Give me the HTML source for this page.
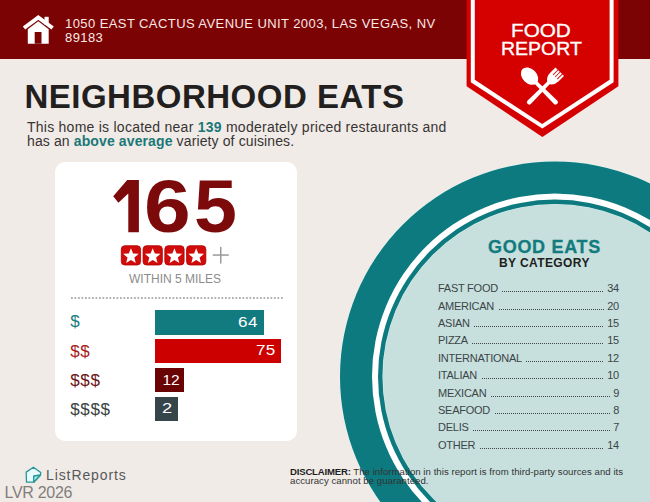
<!DOCTYPE html>
<html><head><meta charset="utf-8">
<style>
html,body{margin:0;padding:0;}
body{width:650px;height:502px;position:relative;overflow:hidden;background:#f0ebe7;font-family:"Liberation Sans",sans-serif;}
.a{position:absolute;white-space:nowrap;line-height:1;}
.row{position:absolute;left:438px;width:181px;height:14px;display:flex;align-items:baseline;font-size:11px;letter-spacing:-0.25px;line-height:14px;color:#3c4546;}
.row i{flex:1;margin:0 3px 0 4.5px;height:1px;background-image:linear-gradient(to right,#3f4748 50%,transparent 50%);background-size:2px 1px;background-repeat:repeat-x;}
</style></head><body>
<div class="a" style="left:0;top:0;width:650px;height:58.6px;background:#7b0304;"></div>

<svg class="a" style="left:0;top:0" width="650" height="502">
  <circle cx="555" cy="376.5" r="215.6" fill="#e2f3f2"/>
  <circle cx="555" cy="376.5" r="215" fill="#0c7a7e"/>
  <circle cx="555" cy="376.5" r="183" fill="#ffffff"/>
  <circle cx="555" cy="376.5" r="177" fill="#0c7a7e"/>
  <circle cx="555" cy="376.5" r="172.6" fill="#d5eeed"/>
  <circle cx="555" cy="376.5" r="172" fill="#c7e0de"/>
</svg>

<svg class="a" style="left:0;top:0" width="650" height="160">
  <polygon points="466.6,0 618.4,0 618.4,86.2 542.4,137 466.6,86.2" fill="#d50000"/>
  <polygon points="470.8,0 613.6,0 613.6,82.3 542.3,128.6 470.8,82.3" fill="#ffffff"/>
  <polygon points="474.8,0 609.6,0 609.6,79.8 542.2,124 474.8,79.8" fill="#d50000"/>
  <g fill="#fff">
    <g transform="translate(542.4,89) rotate(-45)">
      <ellipse cx="0" cy="-18.2" rx="7.2" ry="10"/>
      <path d="M-1.8,-10 L1.8,-10 L2.4,18.5 Q2.4,21 0,21 Q-2.4,21 -2.4,18.5 Z"/>
    </g>
    <g transform="translate(542.4,89) rotate(45)">
      <path d="M-6,-24.5 L-6,-17 Q-6,-11.5 -1.8,-8.5 L-2.4,18.5 Q-2.4,21 0,21 Q2.4,21 2.4,18.5 L1.8,-8.5 Q6,-11.5 6,-17 L6,-24.5 L3.9,-24.5 L3.9,-17.5 L3.1,-17.5 L3.1,-24.5 L0.9,-24.5 L0.9,-17.5 L0.1,-17.5 L0.1,-24.5 L-2.1,-24.5 L-2.1,-17.5 L-2.9,-17.5 L-2.9,-24.5 Z"/>
    </g>
  </g>
</svg>

<svg class="a" style="left:0;top:0" width="60" height="50">
  <polygon points="27.8,43.7 48.7,43.7 48.7,29.3 38.3,21.3 27.8,29.3" fill="#fff"/>
  <rect x="34.7" y="32" width="6.8" height="11.7" fill="#7b0304"/>
  <rect x="44.5" y="16.8" width="4.2" height="8" fill="#fff"/>
  <polyline points="24,28 38.3,17.4 52.6,28" fill="none" stroke="#fff" stroke-width="4" stroke-linejoin="miter"/>
</svg>

<div class="a" style="left:65px;top:17px;font-size:13px;letter-spacing:0.42px;color:#f8e8e6;line-height:14px;">1050 EAST CACTUS AVENUE UNIT 2003, LAS VEGAS, NV<br>89183</div>

<div class="a" style="left:510.5px;top:21px;font-size:19px;color:#fff;-webkit-text-stroke:0.35px #fff;transform:scaleX(1.09);transform-origin:0 0;">FOOD</div>
<div class="a" style="left:500.8px;top:38.5px;font-size:19px;color:#fff;-webkit-text-stroke:0.35px #fff;transform:scaleX(1.025);transform-origin:0 0;">REPORT</div>

<div class="a" style="left:24.4px;top:80.3px;font-size:33px;font-weight:700;letter-spacing:0.5px;color:#231f1f;">NEIGHBORHOOD EATS</div>
<div class="a" style="left:27px;top:119.5px;font-size:14px;color:#383434;letter-spacing:0.25px;">This home is located near <b style="color:#1b7878">139</b> moderately priced restaurants and</div>
<div class="a" style="left:27px;top:134.3px;font-size:14px;color:#383434;letter-spacing:0.12px;">has an <b style="color:#1b7878">above average</b> variety of cuisines.</div>

<div class="a" style="left:54.5px;top:162px;width:242px;height:279px;background:#fff;border-radius:10px;"></div>
<svg class="a" style="left:0;top:0" width="150" height="240"><polygon points="127.2,180.1 138.9,180.1 138.9,232.2 128.3,232.2 128.3,193.5 118.4,202.7 113.2,196.3" fill="#7c0a0a"/></svg>
<div class="a" style="left:144px;top:169.1px;font-size:75px;font-weight:700;color:#7c0a0a;transform:scaleX(1.12);transform-origin:0 0;">6</div>
<div class="a" style="left:193.8px;top:168.7px;font-size:75px;font-weight:700;color:#7c0a0a;transform:scaleX(1.03);transform-origin:0 0;">5</div>

<svg class="a" style="left:0;top:0" width="300" height="300">
  <rect x="121.30" y="245.7" width="19.3" height="19.3" rx="3.5" fill="#d10a0a" stroke="#b30000" stroke-width="0.8"/><polygon points="130.95,248.20 133.07,253.49 138.75,253.87 134.37,257.51 135.77,263.03 130.95,260.00 126.13,263.03 127.53,257.51 123.15,253.87 128.83,253.49" fill="#fff"/><rect x="143.05" y="245.7" width="19.3" height="19.3" rx="3.5" fill="#d10a0a" stroke="#b30000" stroke-width="0.8"/><polygon points="152.70,248.20 154.82,253.49 160.50,253.87 156.12,257.51 157.52,263.03 152.70,260.00 147.88,263.03 149.28,257.51 144.90,253.87 150.58,253.49" fill="#fff"/><rect x="164.80" y="245.7" width="19.3" height="19.3" rx="3.5" fill="#d10a0a" stroke="#b30000" stroke-width="0.8"/><polygon points="174.45,248.20 176.57,253.49 182.25,253.87 177.87,257.51 179.27,263.03 174.45,260.00 169.63,263.03 171.03,257.51 166.65,253.87 172.33,253.49" fill="#fff"/><rect x="186.55" y="245.7" width="19.3" height="19.3" rx="3.5" fill="#d10a0a" stroke="#b30000" stroke-width="0.8"/><polygon points="196.20,248.20 198.32,253.49 204.00,253.87 199.62,257.51 201.02,263.03 196.20,260.00 191.38,263.03 192.78,257.51 188.40,253.87 194.08,253.49" fill="#fff"/>
  <rect x="212.8" y="254.3" width="16" height="1.5" fill="#9b9b9b"/>
  <rect x="220" y="246.9" width="1.5" height="16.6" fill="#9b9b9b"/>
</svg>

<div class="a" style="left:129px;top:273px;font-size:12px;color:#8c8c8c;">WITHIN 5 MILES</div>
<div class="a" style="left:70.5px;top:297px;width:212px;height:2px;background-image:linear-gradient(to right,#b0b0b0 57%,transparent 57%);background-size:3.5px 2px;"></div>

<div class="a" style="left:70.3px;top:313px;font-size:17px;letter-spacing:0.6px;color:#1a7d7e;">$</div>
<div class="a" style="left:70.3px;top:342.5px;font-size:17px;letter-spacing:0.6px;color:#a51d1d;">$$</div>
<div class="a" style="left:70.3px;top:371.5px;font-size:17px;letter-spacing:0.6px;color:#6b1414;">$$$</div>
<div class="a" style="left:70.3px;top:400.5px;font-size:17px;letter-spacing:0.6px;color:#3a4242;">$$$$</div>

<div class="a" style="left:154.5px;top:310.3px;width:109px;height:24.5px;background:#127b7f;"></div>
<div class="a" style="left:154.5px;top:339.2px;width:126.2px;height:24.3px;background:#cd0000;"></div>
<div class="a" style="left:154.5px;top:367.8px;width:29.8px;height:24.4px;background:#6a0303;"></div>
<div class="a" style="left:154.5px;top:396.6px;width:23.5px;height:24.6px;background:#36454a;"></div>
<div class="a" style="left:237.9px;top:314px;font-size:15.5px;letter-spacing:0.4px;color:#fff;transform:scaleX(1.1);transform-origin:0 0;">64</div>
<div class="a" style="left:256px;top:342px;font-size:15.5px;letter-spacing:0.2px;color:#fff;transform:scaleX(1.1);transform-origin:0 0;">75</div>
<div class="a" style="left:162.4px;top:371.8px;font-size:15.5px;color:#fff;">12</div>
<div class="a" style="left:162.2px;top:400px;font-size:15.5px;color:#fff;transform:scaleX(1.18);transform-origin:0 0;">2</div>

<div class="a" style="left:488px;top:238px;font-size:18px;font-weight:700;letter-spacing:0.7px;color:#137b7d;-webkit-text-stroke:0.3px #137b7d;">GOOD EATS</div>
<div class="a" style="left:499px;top:257px;font-size:12px;font-weight:700;letter-spacing:0.4px;color:#1e2020;">BY CATEGORY</div>
<div class="row" style="top:281.2px"><span>FAST FOOD</span><i></i><span>34</span></div>
<div class="row" style="top:298.6px"><span>AMERICAN</span><i></i><span>20</span></div>
<div class="row" style="top:316.0px"><span>ASIAN</span><i></i><span>15</span></div>
<div class="row" style="top:333.4px"><span>PIZZA</span><i></i><span>15</span></div>
<div class="row" style="top:350.8px"><span>INTERNATIONAL</span><i></i><span>12</span></div>
<div class="row" style="top:368.2px"><span>ITALIAN</span><i></i><span>10</span></div>
<div class="row" style="top:385.6px"><span>MEXICAN</span><i></i><span>9</span></div>
<div class="row" style="top:403.0px"><span>SEAFOOD</span><i></i><span>8</span></div>
<div class="row" style="top:420.4px"><span>DELIS</span><i></i><span>7</span></div>
<div class="row" style="top:437.8px"><span>OTHER</span><i></i><span>14</span></div>

<svg class="a" style="left:0;top:440px" width="60" height="62">
  <path d="M33.4,27.2 L26.2,32.1 L26.5,42.2 L33.7,42.2 L40.5,35 L40.7,32.6 Z" fill="#e6fbfb" stroke="#2a9496" stroke-width="1.3" stroke-linejoin="round"/>
  <path d="M33.7,42.2 L33.7,36 L40.5,35 Z" fill="#8ff0f2" stroke="#2a9496" stroke-width="1.3" stroke-linejoin="round"/>
</svg>
<div class="a" style="left:46px;top:468px;font-size:14px;letter-spacing:0.9px;color:#58585a;">ListReports</div>
<div class="a" style="left:4.5px;top:484.5px;font-size:16px;color:#827e7c;letter-spacing:-0.3px;">LVR 2026</div>
<div class="a" style="left:290px;top:466.5px;font-size:9.6px;color:#333;line-height:9.8px;letter-spacing:0.05px;"><b style="color:#1e1e1e;letter-spacing:-0.2px">DISCLAIMER:</b> The information in this report is from third-party sources and its<br>accuracy cannot be guaranteed.</div>
</body></html>
